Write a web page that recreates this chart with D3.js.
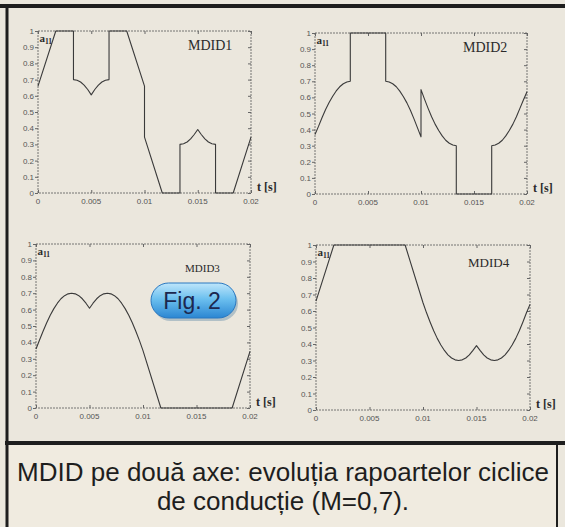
<!DOCTYPE html>
<html>
<head>
<meta charset="utf-8">
<script src="https://cdn.jsdelivr.net/npm/d3@7"></script>
<style>
  html, body { margin: 0; padding: 0; background: #ebe7dd; }
  svg { display: block; }
</style>
</head>
<body>
<svg id="chart" width="565" height="527"></svg>
<script>
// ---------------- DATA ----------------
const xTickValues = [0, 0.005, 0.01, 0.015, 0.02];
const xTickLabels = ["0", "0.005", "0.01", "0.015", "0.02"];
const yTickValues = [0, 0.1, 0.2, 0.3, 0.4, 0.5, 0.6, 0.7, 0.8, 0.9, 1];
const yTickLabels = ["0", "0.1", "0.2", "0.3", "0.4", "0.5", "0.6", "0.7", "0.8", "0.9", "1"];
const panelNames = ["MDID1", "MDID2", "MDID3", "MDID4"];

const mdid1T = [0, 0.00167, 0.00333, 0.00333, 0.00367, 0.004, 0.00433, 0.00467, 0.005, 0.00533, 0.00567, 0.006, 0.00633, 0.00667, 0.00667, 0.00833, 0.01, 0.01, 0.01167, 0.01333, 0.01333, 0.01367, 0.014, 0.01433, 0.01467, 0.015, 0.01533, 0.01567, 0.016, 0.01633, 0.01667, 0.01667, 0.01833, 0.02];
const mdid1V = [0.66, 1, 1, 0.70, 0.696, 0.685, 0.666, 0.639, 0.606, 0.639, 0.666, 0.685, 0.696, 0.70, 1, 1, 0.66, 0.345, 0, 0, 0.30, 0.304, 0.315, 0.334, 0.361, 0.392, 0.361, 0.334, 0.315, 0.304, 0.30, 0, 0, 0.345];

const mdid2T = [0, 0.00033, 0.00067, 0.001, 0.00133, 0.00167, 0.002, 0.00233, 0.00267, 0.003, 0.00333, 0.00333, 0.00667, 0.00667, 0.007, 0.00733, 0.00767, 0.008, 0.00833, 0.00867, 0.009, 0.00933, 0.00967, 0.01, 0.01, 0.01033, 0.01067, 0.011, 0.01133, 0.01167, 0.012, 0.01233, 0.01267, 0.013, 0.01333, 0.01333, 0.01667, 0.01667, 0.017, 0.01733, 0.01767, 0.018, 0.01833, 0.01867, 0.019, 0.01933, 0.01967, 0.02];
const mdid2V = [0.37, 0.42, 0.475, 0.525, 0.568, 0.607, 0.64, 0.666, 0.685, 0.696, 0.70, 1, 1, 0.70, 0.696, 0.685, 0.666, 0.639, 0.606, 0.566, 0.52, 0.468, 0.411, 0.355, 0.648, 0.589, 0.532, 0.48, 0.434, 0.394, 0.361, 0.334, 0.315, 0.304, 0.30, 0, 0, 0.30, 0.304, 0.315, 0.334, 0.361, 0.394, 0.434, 0.48, 0.532, 0.585, 0.635];

const mdid3T = [0, 0.00033, 0.00067, 0.001, 0.00133, 0.00167, 0.002, 0.00233, 0.00267, 0.003, 0.00333, 0.00367, 0.004, 0.00433, 0.00467, 0.005, 0.00533, 0.00567, 0.006, 0.00633, 0.00667, 0.007, 0.00733, 0.00767, 0.008, 0.00833, 0.00867, 0.009, 0.00933, 0.00967, 0.01, 0.01167, 0.01833, 0.02];
const mdid3V = [0.36, 0.415, 0.47, 0.52, 0.566, 0.606, 0.639, 0.666, 0.685, 0.696, 0.70, 0.696, 0.685, 0.666, 0.639, 0.608, 0.639, 0.666, 0.685, 0.696, 0.70, 0.696, 0.685, 0.666, 0.639, 0.606, 0.566, 0.52, 0.468, 0.411, 0.35, 0, 0, 0.345];

const mdid4T = [0, 0.00167, 0.00833, 0.01, 0.01033, 0.01067, 0.011, 0.01133, 0.01167, 0.012, 0.01233, 0.01267, 0.013, 0.01333, 0.01367, 0.014, 0.01433, 0.01467, 0.015, 0.01533, 0.01567, 0.016, 0.01633, 0.01667, 0.017, 0.01733, 0.01767, 0.018, 0.01833, 0.01867, 0.019, 0.01933, 0.01967, 0.02];
const mdid4V = [0.66, 1, 1, 0.65, 0.589, 0.532, 0.48, 0.434, 0.394, 0.361, 0.334, 0.315, 0.304, 0.30, 0.304, 0.315, 0.334, 0.361, 0.39, 0.361, 0.334, 0.315, 0.304, 0.30, 0.304, 0.315, 0.334, 0.361, 0.394, 0.434, 0.48, 0.532, 0.589, 0.64];

const captionLines = ["MDID pe două axe: evoluția rapoartelor ciclice", "de conducție (M=0,7)."];
const badgeText = "Fig. 2";

// ---------------- LAYOUT ----------------
const seriesT = [mdid1T, mdid2T, mdid3T, mdid4T];
const seriesV = [mdid1V, mdid2V, mdid3V, mdid4V];
const layout = [
  { x0: 38,  x1: 251, y0: 31,  y1: 193, fs: 14, lx: 188, ly: 50 },
  { x0: 315, x1: 527, y0: 33,  y1: 194, fs: 14, lx: 463, ly: 52 },
  { x0: 36,  x1: 250, y0: 244, y1: 408, fs: 11, lx: 185, ly: 272 },
  { x0: 316, x1: 530, y0: 245, y1: 410, fs: 13, lx: 468, ly: 267 }
];

const svg = d3.select("#chart");
const defs = svg.append("defs");

// backgrounds
svg.append("rect").attr("x", 0).attr("y", 0).attr("width", 565).attr("height", 527).attr("fill", "#ebe7dd");
svg.append("rect").attr("x", 7).attr("y", 443).attr("width", 550).attr("height", 84).attr("fill", "#f0ebe0");

// frame
const frame = svg.append("g").attr("stroke", "#1e1e1e").attr("fill", "none");
frame.append("line").attr("x1", 0).attr("x2", 565).attr("y1", 6).attr("y2", 6).attr("stroke-width", 4);
frame.append("line").attr("x1", 7).attr("x2", 7).attr("y1", 4).attr("y2", 527).attr("stroke-width", 3);
frame.append("line").attr("x1", 5).attr("x2", 565).attr("y1", 443).attr("y2", 443).attr("stroke-width", 4);
frame.append("line").attr("x1", 557).attr("x2", 557).attr("y1", 441).attr("y2", 527).attr("stroke-width", 2);

layout.forEach((L, i) => {
  const x = d3.scaleLinear().domain([0, 0.02]).range([L.x0, L.x1]);
  const y = d3.scaleLinear().domain([0, 1]).range([L.y1, L.y0]);
  const g = svg.append("g");

  g.append("rect")
    .attr("x", L.x0).attr("y", L.y0)
    .attr("width", L.x1 - L.x0).attr("height", L.y1 - L.y0)
    .attr("fill", "none").attr("stroke", "#666").attr("stroke-width", 0.9)
    .attr("stroke-dasharray", "2,1");

  const yAxis = d3.axisLeft(y).tickValues(yTickValues)
    .tickFormat((d, k) => yTickLabels[k]).tickSize(3).tickPadding(1);
  const ga = g.append("g").attr("transform", `translate(${L.x0},0)`).call(yAxis);
  ga.select(".domain").remove();
  ga.selectAll("line").attr("stroke", "#666");
  ga.selectAll("text").attr("font-family", "Liberation Sans, Arial, sans-serif")
    .attr("font-size", 8).attr("fill", "#555");

  const yR = d3.axisLeft(y).tickValues(yTickValues).tickFormat("").tickSize(3);
  const gr = g.append("g").attr("transform", `translate(${L.x1},0)`).call(yR);
  gr.select(".domain").remove();
  gr.selectAll("line").attr("stroke", "#666");

  const xAxis = d3.axisTop(x).tickValues(xTickValues).tickFormat("").tickSize(3);
  const gb = g.append("g").attr("transform", `translate(0,${L.y1})`).call(xAxis);
  gb.select(".domain").remove();
  gb.selectAll("line").attr("stroke", "#666");
  g.selectAll(".xl").data(xTickValues).enter().append("text")
    .attr("x", d => x(d)).attr("y", L.y1 + 11)
    .attr("text-anchor", "middle")
    .attr("font-family", "Liberation Sans, Arial, sans-serif")
    .attr("font-size", 8).attr("fill", "#555")
    .text((d, k) => xTickLabels[k]);
  const xT = d3.axisBottom(x).tickValues(xTickValues).tickFormat("").tickSize(3);
  const gt = g.append("g").attr("transform", `translate(0,${L.y0})`).call(xT);
  gt.select(".domain").remove();
  gt.selectAll("line").attr("stroke", "#666");

  const pts = seriesT[i].map((t, k) => [t, seriesV[i][k]]);
  g.append("path").datum(pts)
    .attr("fill", "none").attr("stroke", "#3a3a3a").attr("stroke-width", 1.1)
    .attr("stroke-linejoin", "round")
    .attr("d", d3.line().x(d => x(d[0])).y(d => y(d[1])));

  const a = g.append("text").attr("x", L.x0 + 1.5).attr("y", L.y0 + 11)
    .attr("font-family", "Liberation Serif, Times New Roman, serif")
    .attr("font-weight", "bold").attr("font-size", 11).attr("fill", "#2a2a2a");
  a.append("tspan").text("a");
  a.append("tspan").attr("font-size", 7.5).attr("dy", 2).text("11");

  g.append("text").attr("x", L.lx).attr("y", L.ly)
    .attr("font-family", "Liberation Serif, Times New Roman, serif")
    .attr("font-size", L.fs).attr("fill", "#2a2a2a")
    .text(panelNames[i]);

  g.append("text").attr("x", L.x1 + 6).attr("y", L.y1 - 2)
    .attr("font-family", "Liberation Serif, Times New Roman, serif")
    .attr("font-weight", "bold").attr("font-size", 12).attr("fill", "#2a2a2a")
    .text("t [s]");
});

// Fig. 2 badge
const grad = defs.append("linearGradient").attr("id", "pill").attr("x1", 0).attr("y1", 0).attr("x2", 0).attr("y2", 1);
grad.append("stop").attr("offset", "0%").attr("stop-color", "#bfe6fb");
grad.append("stop").attr("offset", "45%").attr("stop-color", "#6cc0ef");
grad.append("stop").attr("offset", "100%").attr("stop-color", "#2b86d2");
svg.append("rect").attr("x", 153).attr("y", 286).attr("width", 85).attr("height", 35).attr("rx", 17.5)
  .attr("fill", "#8aa6b8").attr("opacity", 0.6);
svg.append("rect").attr("x", 151).attr("y", 283).attr("width", 85).attr("height", 35).attr("rx", 17.5)
  .attr("fill", "url(#pill)").attr("stroke", "#2a78c0").attr("stroke-width", 1);
svg.append("text").attr("x", 192).attr("y", 309).attr("text-anchor", "middle")
  .attr("font-family", "Liberation Sans, Arial, sans-serif").attr("font-size", 23)
  .attr("fill", "#1c2850").text(badgeText);

// caption
svg.selectAll(".cap").data(captionLines).enter().append("text")
  .attr("x", 283).attr("y", (d, k) => 481 + k * 29)
  .attr("text-anchor", "middle")
  .attr("font-family", "Liberation Sans, Arial, sans-serif")
  .attr("font-size", 26).attr("fill", "#1e1e1e")
  .text(d => d);
</script>
</body>
</html>
